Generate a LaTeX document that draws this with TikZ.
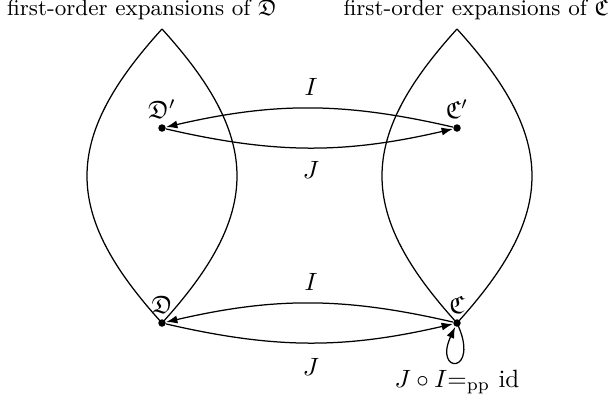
\documentclass[tikz,border=0pt]{standalone}
\usepackage{amssymb}
\usetikzlibrary{arrows.meta}
\begin{document}
\begin{tikzpicture}[x=0.4pt,y=-0.4pt,
  dot/.style={circle,fill=black,inner sep=0pt,minimum size=3pt},
  arr/.style={-{Latex[length=4.5pt,width=3.2pt]},line width=0.5pt},
  lens/.style={line width=0.5pt},
  head/.style={font=\small,anchor=base,inner sep=0pt}]
\useasboundingbox (0,0) rectangle (608,402);
% points
\node[dot,label={[inner sep=2pt]above:$\mathfrak{D}'$}] (Dp) at (162,128) {};
\node[dot,label={[inner sep=2pt]above:$\mathfrak{C}'$}] (Cp) at (457,128) {};
\node[dot,label={[inner sep=2pt]above:$\mathfrak{D}$}] (D) at (162,323) {};
\node[dot,label={[inner sep=2pt]above:$\mathfrak{C}$}] (C) at (457,323) {};
% lens tops
\coordinate (Lt) at (162,29);
\coordinate (Rt) at (457,29);
% lenses
\draw[lens] (Lt) .. controls (262,139) and (262,213) .. (D.center);
\draw[lens] (Lt) .. controls (62,139) and (62,213) .. (D.center);
\draw[lens] (Rt) .. controls (557,139) and (557,213) .. (C.center);
\draw[lens] (Rt) .. controls (357,139) and (357,213) .. (C.center);
% headings
\node[head] (hl) at (142,15.5) {first-order expansions of $\mathfrak{D}$};
\node[head] (hr) at (476,15.5) {first-order expansions of $\mathfrak{C}$};
% arrows top
\draw[arr] (Cp) to[bend right=13] (Dp);
\draw[arr] (Dp) to[bend right=13] (Cp);
\node (It) at (311,87) {$I$};
\node (Jt) at (311,170) {$J$};
% arrows bottom
\draw[arr] (C) to[bend right=13] (D);
\draw[arr] (D) to[bend right=13] (C);
\node (Ib) at (311,282) {$I$};
\node (Jb) at (311,367) {$J$};
% loop
\draw[arr] (C.center) .. controls +(65:57) and +(115:57) .. (C);
\node[anchor=base,inner sep=0pt] (eq) at (457,387) {$J\circ I{=}_{\mathrm{pp}}$ id};
\end{tikzpicture}
\end{document}
